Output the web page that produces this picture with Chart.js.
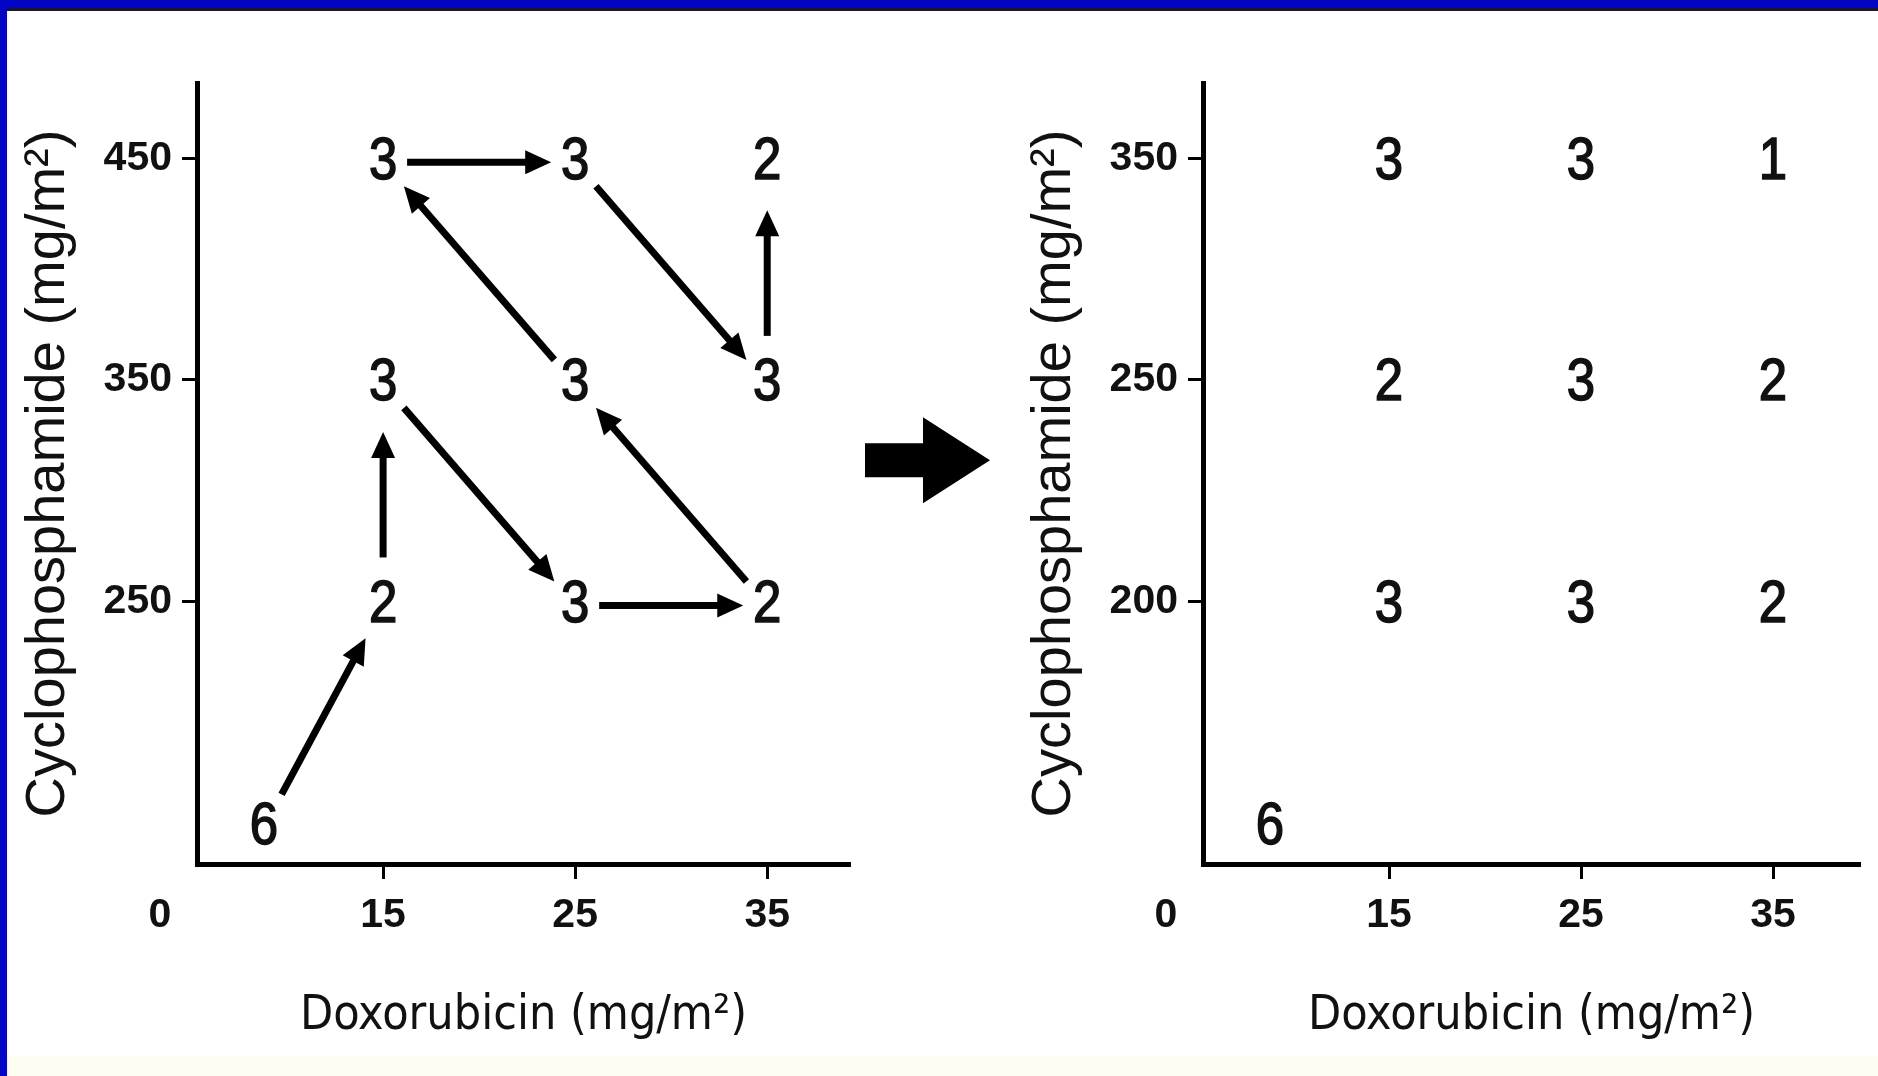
<!DOCTYPE html>
<html>
<head>
<meta charset="utf-8">
<script src="https://cdn.jsdelivr.net/npm/chart.js@4.4.1/dist/chart.umd.min.js"></script>
<style>
    html, body { margin: 0; padding: 0; background: #fff; }
    #page { position: relative; width: 1878px; height: 1076px; overflow: hidden; background: #fff; }
    #page canvas { position: absolute; top: 0; }
    #left { left: 0; }
    #right { left: 1006px; }
    .frame-top { position: absolute; left: 0; top: 0; width: 1878px; height: 8px; background: #0404c4; border-bottom: 3px solid #16162c; z-index: 2; }
    .frame-left { position: absolute; left: 0; top: 0; width: 7px; height: 1076px; background: #0404c4; z-index: 3; }
    .band { position: absolute; left: 0; bottom: 0; width: 1878px; height: 20px; background: #fdfdf1; }
</style>
</head>
<body>
<div id="page">
    <div class="band"></div>
    <canvas id="left" width="1006" height="1076"></canvas>
    <canvas id="right" width="872" height="1076"></canvas>
    <div class="frame-top"></div>
    <div class="frame-left"></div>
</div>
<script>
// doses (mg/m2)
const doxorubicin = [15, 25, 35];
const cycloA = [250, 350, 450];   // first design
const cycloB = [200, 250, 350];   // revised design
// patients per cell: rows = cyclophosphamide low -> high, cols = doxorubicin
const patientsA = [
    [2, 3, 2],
    [3, 3, 3],
    [3, 3, 2]
];
const patientsB = [
    [3, 3, 2],
    [2, 3, 2],
    [3, 3, 1]
];
const startDox = 8.8;       // starting level sits left of the 15 tick
const startPatients = 6;
const originLabel = '0';
// escalation order in the first design [doxorubicin, cyclophosphamide]
const pathA = [[15, 250], [15, 350], [25, 250], [35, 250], [25, 350], [15, 450], [25, 450], [35, 350], [35, 450]];

const sans = "'Liberation Sans', Arial, sans-serif";
const condensed = "'DejaVu Sans Condensed', 'Liberation Sans', sans-serif";
const ink = '#111';
const tickFont = {family: sans, size: 41, weight: 'bold'};

function cells(cyclo, patients) {
    const pts = [{x: startDox, y: 0, n: startPatients}];
    patients.forEach((row, r) => row.forEach((n, c) => {
        pts.push({x: doxorubicin[c], y: r + 1, n: n});
    }));
    return pts;
}

const countLabels = {
    id: 'countLabels',
    afterDatasetsDraw(chart) {
        const ctx = chart.ctx;
        const data = chart.data.datasets[0].data;
        ctx.save();
        ctx.font = '60px ' + sans;
        ctx.fillStyle = ink;
        ctx.strokeStyle = ink;
        ctx.lineWidth = 1.6;
        ctx.textAlign = 'center';
        ctx.textBaseline = 'middle';
        chart.getDatasetMeta(0).data.forEach((el, i) => {
            ctx.save();
            ctx.translate(el.x, el.y + 4);
            ctx.scale(0.85, 1);   // narrow figures like the original
            ctx.fillText(String(data[i].n), 0, 0);
            ctx.strokeText(String(data[i].n), 0, 0);
            ctx.restore();
        });
        // shared origin label under the corner
        ctx.font = 'bold 41px ' + sans;
        ctx.fillText(originLabel, chart.chartArea.left - 37, chart.chartArea.bottom + 52);
        ctx.restore();
    }
};

const pathArrows = {
    id: 'pathArrows',
    afterDatasetsDraw(chart, args, opts) {
        if (!opts.path) return;
        const {ctx, scales: {x, y}} = chart;
        const rx = 24, ry = 48, head = 26, half = 12;
        ctx.save();
        ctx.strokeStyle = '#000';
        ctx.fillStyle = '#000';
        ctx.lineWidth = 7;
        for (let i = 1; i < opts.path.length; i++) {
            const a = opts.path[i - 1], b = opts.path[i];
            const ax = x.getPixelForValue(a.x), ay = y.getPixelForValue(a.y) + 4;
            const bx = x.getPixelForValue(b.x), by = y.getPixelForValue(b.y) + 4;
            const len = Math.hypot(bx - ax, by - ay);
            const ux = (bx - ax) / len, uy = (by - ay) / len;
            const gap = 1 / Math.sqrt((ux / rx) ** 2 + (uy / ry) ** 2);
            const sx = ax + ux * gap, sy = ay + uy * gap;
            const tx = bx - ux * gap, ty = by - uy * gap;
            const hx = tx - ux * head, hy = ty - uy * head;
            ctx.beginPath();
            ctx.moveTo(sx, sy);
            ctx.lineTo(hx + ux * 2, hy + uy * 2);
            ctx.stroke();
            ctx.beginPath();
            ctx.moveTo(tx, ty);
            ctx.lineTo(hx - uy * half, hy + ux * half);
            ctx.lineTo(hx + uy * half, hy - ux * half);
            ctx.closePath();
            ctx.fill();
        }
        ctx.restore();
    }
};

// the big block arrow between the two designs
const bigArrow = {
    id: 'bigArrow',
    afterDraw(chart, args, opts) {
        if (!opts.show) return;
        const {ctx, chartArea} = chart;
        const x0 = chartArea.right + 15;
        const cy = chartArea.top + (chartArea.bottom - chartArea.top) * 0.483;
        ctx.save();
        ctx.fillStyle = '#000';
        ctx.beginPath();
        ctx.moveTo(x0, cy - 17);
        ctx.lineTo(x0 + 58, cy - 17);
        ctx.lineTo(x0 + 58, cy - 43);
        ctx.lineTo(x0 + 125, cy);
        ctx.lineTo(x0 + 58, cy + 43);
        ctx.lineTo(x0 + 58, cy + 17);
        ctx.lineTo(x0, cy + 17);
        ctx.closePath();
        ctx.fill();
        ctx.restore();
    }
};

function panel(id, cyclo, patients, xMax, padRight, path) {
    return new Chart(document.getElementById(id), {
        type: 'scatter',
        data: {
            datasets: [{
                data: cells(cyclo, patients),
                pointRadius: 0,
                pointHoverRadius: 0,
                showLine: false
            }]
        },
        options: {
            responsive: false,
            animation: false,
            events: [],
            layout: {padding: {top: 83, right: padRight, left: 0, bottom: 0}},
            plugins: {
                legend: {display: false},
                tooltip: {enabled: false},
                pathArrows: {path: path},
                bigArrow: {show: !!path}
            },
            scales: {
                x: {
                    type: 'linear',
                    min: 5.31,
                    max: xMax,
                    afterBuildTicks: s => { s.ticks = doxorubicin.map(v => ({value: v})); },
                    afterFit: s => { s.height = 212; },
                    ticks: {font: tickFont, color: ink, padding: 12, maxRotation: 0, autoSkip: false},
                    grid: {drawOnChartArea: false, tickLength: 15, tickWidth: 3, tickColor: '#000'},
                    border: {width: 5, color: '#000'},
                    title: {display: true, text: 'Doxorubicin (mg/m²)', color: ink, font: {family: condensed, size: 48}, padding: {top: 0, bottom: 31}}
                },
                y: {
                    type: 'linear',
                    min: -0.185,
                    max: 3.34,
                    afterBuildTicks: s => { s.ticks = cyclo.map((c, i) => ({value: i + 1})); },
                    afterFit: s => { s.width = 197; },
                    ticks: {callback: v => String(cyclo[v - 1]), font: tickFont, color: ink, padding: 10, autoSkip: false},
                    grid: {drawOnChartArea: false, tickLength: 15, tickWidth: 3, tickColor: '#000'},
                    border: {width: 5, color: '#000'},
                    title: {display: true, text: 'Cyclophosphamide (mg/m²)', color: ink, font: {family: sans, size: 56}, padding: {top: 15, bottom: 0}}
                }
            }
        },
        plugins: [countLabels, pathArrows, bigArrow]
    });
}

const pathPoints = [{x: startDox, y: 0}].concat(pathA.map(([d, c]) => ({x: d, y: cycloA.indexOf(c) + 1})));

panel('left', cycloA, patientsA, 39.31, 156, pathPoints);
panel('right', cycloB, patientsB, 39.53, 18, null);
</script>
</body>
</html>
